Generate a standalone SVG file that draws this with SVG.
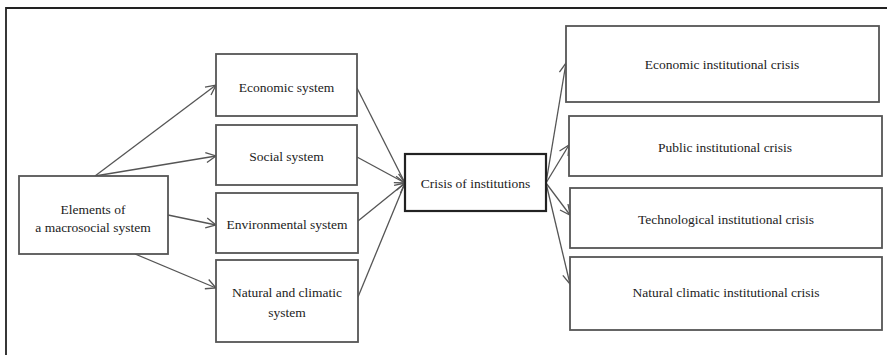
<svg xmlns="http://www.w3.org/2000/svg" width="887" height="355" viewBox="0 0 887 355">
<style>
.box{fill:#fff;stroke:#555;stroke-width:1.8}
.main{fill:#fff;stroke:#222;stroke-width:2.2}
.t{font-family:"Liberation Serif","Times New Roman",serif;font-size:13.5px;fill:#222;text-anchor:middle}
.c{stroke:#555;stroke-width:1.3;fill:none}
</style>
<defs>
<marker id="ah" viewBox="0 0 12 12" refX="11" refY="6" markerWidth="12" markerHeight="12" markerUnits="userSpaceOnUse" orient="auto">
<path d="M1,1 L11,6 L1,11" fill="none" stroke="#555" stroke-width="1.3"/>
</marker>
</defs>
<rect width="887" height="355" fill="#fff"/>
<path d="M6,355 L6,8 L887,8" fill="none" stroke="#222" stroke-width="1.8"/>
<g id="connectors">
<line class="c" x1="95" y1="176" x2="216" y2="85" marker-end="url(#ah)"/>
<line class="c" x1="95" y1="176" x2="216" y2="156" marker-end="url(#ah)"/>
<line class="c" x1="168" y1="215" x2="216" y2="225" marker-end="url(#ah)"/>
<line class="c" x1="135" y1="254" x2="216" y2="288" marker-end="url(#ah)"/>
<line class="c" x1="357" y1="88" x2="405" y2="183" marker-end="url(#ah)"/>
<line class="c" x1="357" y1="157" x2="405" y2="183" marker-end="url(#ah)"/>
<line class="c" x1="358" y1="221" x2="405" y2="183" marker-end="url(#ah)"/>
<line class="c" x1="358" y1="297" x2="405" y2="183" marker-end="url(#ah)"/>
<line class="c" x1="546" y1="183" x2="566" y2="63" marker-end="url(#ah)"/>
<line class="c" x1="546" y1="183" x2="569" y2="145" marker-end="url(#ah)"/>
<line class="c" x1="546" y1="183" x2="570" y2="215" marker-end="url(#ah)"/>
<line class="c" x1="546" y1="183" x2="570" y2="284" marker-end="url(#ah)"/>
</g>
<g id="elements">
<rect class="box" x="19" y="176" width="149" height="78"/>
<text class="t" x="93" y="214">Elements of</text>
<text class="t" x="93" y="232">a macrosocial system</text>
</g>
<g id="economic-system">
<rect class="box" x="216" y="54" width="141" height="62"/>
<text class="t" x="286.5" y="92">Economic  system</text>
</g>
<g id="social-system">
<rect class="box" x="216" y="125" width="141" height="60"/>
<text class="t" x="286.5" y="161">Social system</text>
</g>
<g id="environmental-system">
<rect class="box" x="216" y="193" width="142" height="60"/>
<text class="t" x="287" y="229">Environmental system</text>
</g>
<g id="natural-system">
<rect class="box" x="216" y="260" width="142" height="82"/>
<text class="t" x="287" y="297">Natural and climatic</text>
<text class="t" x="287" y="317">system</text>
</g>
<g id="crisis">
<rect class="main" x="405" y="154" width="141" height="57"/>
<text class="t" x="475.5" y="188">Crisis of institutions</text>
</g>
<g id="economic-crisis">
<rect class="box" x="566" y="26" width="313" height="76"/>
<text class="t" x="722" y="69">Economic institutional  crisis</text>
</g>
<g id="public-crisis">
<rect class="box" x="569" y="116" width="313" height="60"/>
<text class="t" x="725" y="152">Public institutional  crisis</text>
</g>
<g id="technological-crisis">
<rect class="box" x="570" y="188" width="312" height="60"/>
<text class="t" x="726" y="224">Technological institutional crisis</text>
</g>
<g id="natural-crisis">
<rect class="box" x="570" y="257" width="312" height="73"/>
<text class="t" x="726" y="297">Natural climatic  institutional crisis</text>
</g>
</svg>
